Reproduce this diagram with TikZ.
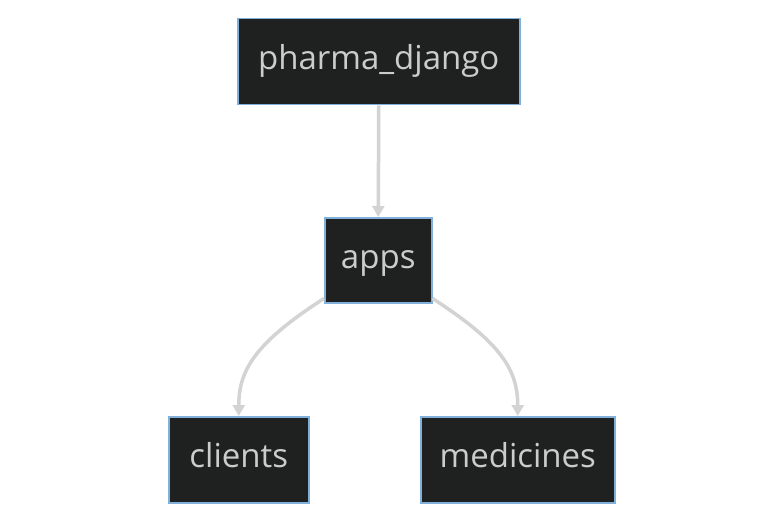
\documentclass[tikz,border=0pt]{standalone}
\usepackage{fontspec}
\setmainfont{Open Sans}
\usetikzlibrary{arrows.meta}
\definecolor{nodefill}{HTML}{1F2020}
\definecolor{nodeborder}{HTML}{81B1DB}
\definecolor{nodetext}{HTML}{CCCCCC}
\definecolor{edgecol}{HTML}{D3D3D3}
\begin{document}
\begin{tikzpicture}[x=1pt,y=-1pt,
  box/.style={draw=nodeborder,line width=1.5pt,fill=nodefill,text=nodetext,
    font=\fontsize{33}{40}\selectfont,inner sep=0pt,anchor=north west,
    text height=26pt,text depth=10pt},
  edge/.style={draw=edgecol,line width=3.5pt,-{Triangle[length=11pt,width=12pt]}}]
\useasboundingbox[fill=white] (0,0) rectangle (783,521);
\node[box,minimum width=282pt,minimum height=86pt] (pd) at (237,18) {pharma\_django};
\node[box,minimum width=107pt,minimum height=85pt] (apps) at (324,217) {apps};
\node[box,minimum width=140pt,minimum height=86pt] (cl) at (168,416) {clients};
\node[box,minimum width=194pt,minimum height=86pt] (med) at (420,416) {medicines};
\draw[edge] (pd.south) -- (apps.north);
\draw[edge] ([yshift=5pt]apps.south west) .. controls +(-70,45) and +(0,-45) .. (cl.north);
\draw[edge] ([yshift=5pt]apps.south east) .. controls +(70,45) and +(0,-45) .. (med.north);
\end{tikzpicture}
\end{document}
